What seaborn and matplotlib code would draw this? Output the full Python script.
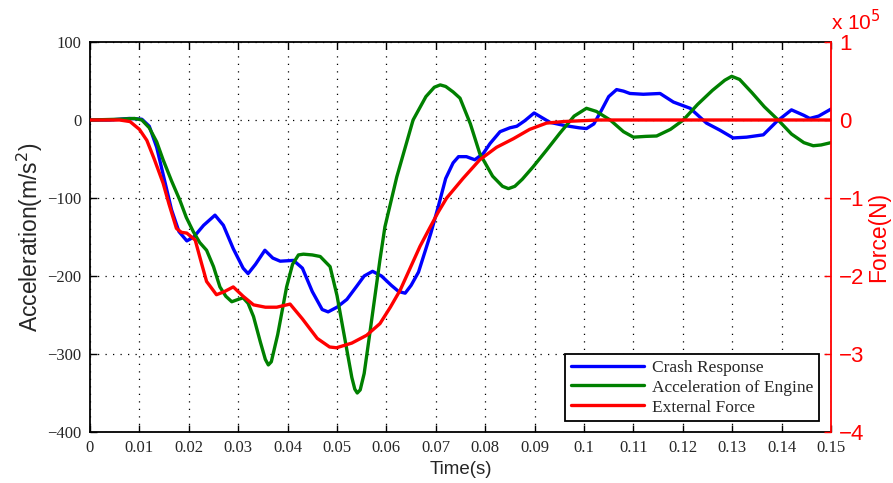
import matplotlib
matplotlib.use("Agg")
import matplotlib.pyplot as plt
import seaborn as sns
import pandas as pd
from matplotlib.lines import Line2D

# --- data -------------------------------------------------------------
crash_t = [0, 0.004, 0.008, 0.0105, 0.012, 0.0135, 0.015, 0.0165, 0.018, 0.0196,
           0.021, 0.023, 0.0253, 0.027, 0.029, 0.031, 0.032, 0.0335, 0.0354, 0.037,
           0.0385, 0.0412, 0.043, 0.045, 0.047, 0.0482, 0.050, 0.052, 0.054, 0.0555,
           0.0572, 0.059, 0.061, 0.0625, 0.0638, 0.065, 0.0665, 0.068, 0.069, 0.0705,
           0.072, 0.0735, 0.0746, 0.0762, 0.0779, 0.0796, 0.081, 0.083, 0.085, 0.0864,
           0.088, 0.0899, 0.0915, 0.0931, 0.096, 0.099, 0.1005, 0.102, 0.1035, 0.105,
           0.1066, 0.108, 0.1093, 0.112, 0.1154, 0.1181, 0.1215, 0.1248, 0.1275, 0.1302,
           0.1329, 0.1363, 0.139, 0.142, 0.1445, 0.1457, 0.1475, 0.15]
crash_a = [0, 0, 2, 1, -8, -35, -75, -115, -143, -155,
           -150, -135, -122, -135, -165, -190, -197, -185, -167, -177,
           -181, -180, -190, -220, -243, -246, -240, -230, -213, -200,
           -194, -200, -212, -220, -222, -212, -195, -165, -145, -111,
           -75, -55, -47, -47, -51, -43, -30, -15, -10, -8,
           -1, 9, 3, -3, -7, -10, -11, -5, 12, 30,
           39, 37, 34, 33, 34, 23, 15, -4, -13, -23,
           -22, -19, -2, 13, 6, 2, 5, 14]

engine_t = [0, 0.006, 0.009, 0.0105, 0.012, 0.0135, 0.0148, 0.0165, 0.0182, 0.0195,
            0.0209, 0.0222, 0.0236, 0.025, 0.0263, 0.0275, 0.0287, 0.030, 0.031, 0.032,
            0.0331, 0.0345, 0.0355, 0.0361, 0.0367, 0.038, 0.0398, 0.041, 0.0422, 0.0432,
            0.045, 0.0466, 0.0486, 0.050, 0.052, 0.053, 0.0536, 0.0541, 0.0547, 0.0555,
            0.0565, 0.0587, 0.0597, 0.0621, 0.0654, 0.068, 0.0697, 0.0709, 0.072, 0.0735,
            0.0749, 0.077, 0.0789, 0.0815, 0.0835, 0.0847, 0.086, 0.0875, 0.0897, 0.0925,
            0.0951, 0.098, 0.1005, 0.1025, 0.1053, 0.108, 0.11, 0.1125, 0.1147, 0.1175,
            0.1201, 0.123, 0.126, 0.1285, 0.1299, 0.1315, 0.134, 0.1365, 0.1393, 0.142,
            0.1445, 0.1464, 0.148, 0.15]
engine_a = [0, 1, 2, 0, -10, -28, -51, -78, -103, -125,
            -143, -157, -167, -188, -214, -226, -233, -230, -228, -235,
            -252, -285, -307, -314, -310, -275, -214, -185, -173, -172,
            -173, -175, -188, -225, -295, -330, -345, -350, -346, -325,
            -280, -179, -137, -73, 0, 30, 42, 45, 43, 36,
            28, -5, -43, -72, -85, -88, -85, -76, -60, -38,
            -17, 5, 15, 11, 0, -15, -22, -21, -20.5, -12,
            0, 20, 38, 51, 56, 52, 35, 17, 0, -18,
            -29, -33, -32, -29]

# external force in units of 1e5 N
force_t = [0, 0.006, 0.0081, 0.01, 0.0115, 0.013, 0.0148, 0.016, 0.0175, 0.0185,
           0.0196, 0.0213, 0.0225, 0.0236, 0.0256, 0.0272, 0.029, 0.031, 0.0331, 0.0355,
           0.0378, 0.0405, 0.043, 0.046, 0.0485, 0.0499, 0.053, 0.056, 0.0587, 0.0608,
           0.0628, 0.0648, 0.0668, 0.0688, 0.0705, 0.0722, 0.0755, 0.0789, 0.0823, 0.0857,
           0.089, 0.0924, 0.0958, 0.0992, 0.103, 0.15]
force_f = [0, 0, -0.02, -0.12, -0.26, -0.50, -0.81, -1.08, -1.39, -1.44,
           -1.45, -1.54, -1.82, -2.07, -2.24, -2.20, -2.14, -2.26, -2.37, -2.40,
           -2.40, -2.36, -2.55, -2.80, -2.91, -2.92, -2.86, -2.76, -2.61, -2.40,
           -2.18, -1.90, -1.62, -1.38, -1.18, -1.00, -0.75, -0.51, -0.35, -0.24,
           -0.12, -0.04, -0.02, -0.01, 0, 0]

x_ticks = [0, 0.01, 0.02, 0.03, 0.04, 0.05, 0.06, 0.07, 0.08, 0.09, 0.10,
           0.11, 0.12, 0.13, 0.14, 0.15]
x_tick_labels = ["0", "0.01", "0.02", "0.03", "0.04", "0.05", "0.06", "0.07",
                 "0.08", "0.09", "0.1", "0.11", "0.12", "0.13", "0.14", "0.15"]
left_ticks = [-400, -300, -200, -100, 0, 100]
right_ticks = [-4, -3, -2, -1, 0, 1]

series_names = ["Crash Response", "Acceleration of Engine", "External Force"]
series_colors = ["#0000ff", "#008000", "#ff0000"]

# --- figure -----------------------------------------------------------
sns.set_style("white")
plt.rcParams["font.family"] = ["Liberation Sans", "DejaVu Sans"]

fig = plt.figure(figsize=(8.93, 4.83), dpi=100)
ax = fig.add_axes([90 / 893, 1 - 432 / 483, 741 / 893, 390 / 483])
ax2 = ax.twinx()

crash_df = pd.DataFrame({"t": crash_t, "a": crash_a})
engine_df = pd.DataFrame({"t": engine_t, "a": engine_a})
force_df = pd.DataFrame({"t": force_t, "f": force_f})

lw = 2.4
sns.lineplot(data=crash_df, x="t", y="a", ax=ax, color=series_colors[0],
             linewidth=lw, sort=False, estimator=None, legend=False)
sns.lineplot(data=engine_df, x="t", y="a", ax=ax, color=series_colors[1],
             linewidth=lw, sort=False, estimator=None, legend=False)
sns.lineplot(data=force_df, x="t", y="f", ax=ax2, color=series_colors[2],
             linewidth=lw, sort=False, estimator=None, legend=False)
for line in ax.lines + ax2.lines:
    line.set_solid_joinstyle("round")
    line.set_solid_capstyle("round")

# left axis
ax.set_xlim(0, 0.15)
ax.set_ylim(-400, 100)
ax.set_xticks(x_ticks)
ax.set_xticklabels(x_tick_labels, family="Liberation Serif", fontsize=12)
ax.set_yticks(left_ticks)
ax.set_yticklabels([f"{v}".replace("-", "\u2212") for v in left_ticks],
                   family="Liberation Serif", fontsize=12)
ax.tick_params(axis="both", direction="in", length=5, width=1, color="black",
               top=True, bottom=True, left=True, right=False, pad=6)
ax.grid(True, linestyle=(0, (1, 5)), color="black", linewidth=0.9)
for side in ["left", "bottom", "top"]:
    ax.spines[side].set_color("black")
    ax.spines[side].set_linewidth(1.3)
ax.spines["right"].set_visible(False)
ax.set_xlabel("Time(s)", fontsize=13.5, labelpad=3)
ax.set_ylabel("Acceleration(m/s$^2$)", fontsize=16.5, labelpad=2)

# right axis
ax2.set_ylim(-4, 1)
ax2.set_yticks(right_ticks)
ax2.set_yticklabels([f"{v}".replace("-", "\u2212") for v in right_ticks],
                    fontsize=16, color="#ff0000")
ax2.tick_params(axis="y", direction="in", length=5, width=1, color="#ff0000",
                right=True, left=False, pad=6)
for side in ["left", "bottom", "top"]:
    ax2.spines[side].set_visible(False)
ax2.spines["right"].set_color("#ff0000")
ax2.spines["right"].set_linewidth(1.3)
ax2.set_ylabel("Force(N)", fontsize=16.5, color="#ff0000", labelpad=2)
ax2.grid(False)
ax2.text(1.0, 1.02, "x 10$^5$", transform=ax2.transAxes, fontsize=15,
         color="#ff0000", ha="left", va="bottom")

# legend
handles = [Line2D([0], [0], color=c, linewidth=lw) for c in series_colors]
leg = ax2.legend(handles, series_names, loc="lower right",
                 bbox_to_anchor=(0.984, 0.028), borderaxespad=0.0,
                 frameon=True, fancybox=False,
                 framealpha=1, edgecolor="black", borderpad=0.32,
                 handlelength=4.2, handletextpad=0.5, labelspacing=0.22,
                 prop={"family": "Liberation Serif", "size": 12.5})
leg.get_frame().set_linewidth(1.3)

fig.savefig("out.png", dpi=100)
